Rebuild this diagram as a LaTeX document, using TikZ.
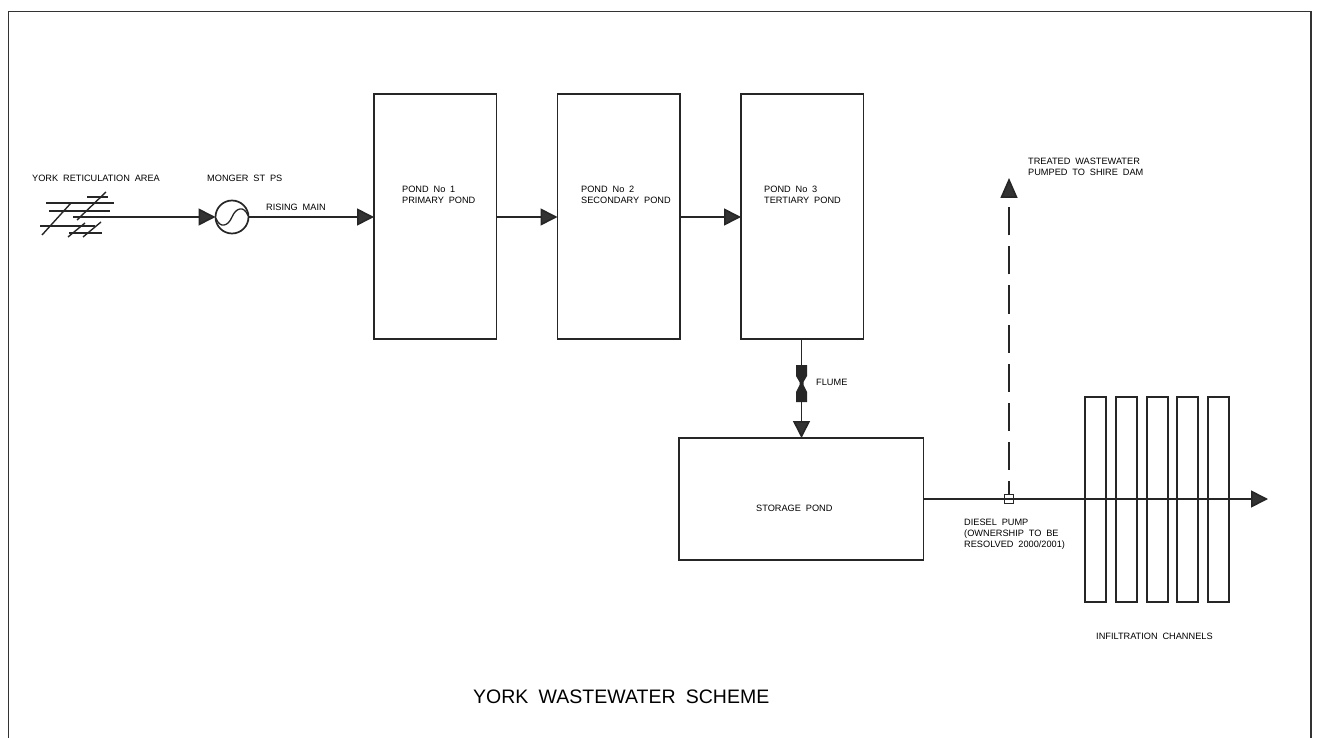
\documentclass[tikz,border=0pt]{standalone}
\usepackage{fontspec}
\setmainfont[WordSpace=1.9]{Liberation Sans}
\usetikzlibrary{arrows.meta}
\tikzset{
  x=1pt,y=-1pt,
  bx/.style={draw=black!85,line width=1.8pt,inner sep=0pt,outer sep=0pt,anchor=north west},
  ln/.style={draw=black!85,line width=1.6pt},
  fl/.style={ln,-{Triangle[length=17pt,width=17pt,fill=black!80]}},
  lb/.style={font=\fontsize{9.2}{11.2}\selectfont,text=black,align=left,anchor=west,inner sep=0pt},
  gridline/.style={draw=black!85,line width=1.4pt}
}
\begin{document}
\begin{tikzpicture}
\useasboundingbox (0,0) rectangle (1318,738);
\fill[white] (0,0) rectangle (1318,738);
\draw[draw=black!80,line width=1.7pt] (8.5,738) -- (8.5,11.5) -- (1311,11.5) -- (1311,738);
% ponds
\node[bx,minimum width=122.5pt,minimum height=245pt] (p1) at (374,94) {};
\node[bx,minimum width=122.5pt,minimum height=245pt] (p2) at (557.5,94) {};
\node[bx,minimum width=122.5pt,minimum height=245pt] (p3) at (741,94) {};
\node[bx,minimum width=244.5pt,minimum height=122pt] (st) at (679,438) {};
\node[lb] (t1) at (402,194.5) {POND No 1\\PRIMARY POND};
\node[lb] (t2) at (581,194.5) {POND No 2\\SECONDARY POND};
\node[lb] (t3) at (764,194.5) {POND No 3\\TERTIARY POND};
\node[lb] (ts) at (756,508) {STORAGE POND};
% channels
\foreach \n/\x in {1/1085,2/1116,3/1147,4/1177,5/1208}{
  \node[bx,minimum width=21pt,minimum height=205pt] (c\n) at (\x,397) {};
}
% reticulation
\coordinate (ret) at (73,217);
\draw[gridline] (46,203) -- (114,203);
\draw[gridline] (49,211) -- (110,211);
\draw[gridline] (40,226) -- (95,226);
\draw[gridline] (87,197) -- (108,197);
\draw[gridline] (69,233) -- (102,233);
\draw[gridline] (42,235) -- (71,203);
\draw[gridline] (77,220) -- (106,192);
\draw[gridline] (68,237) -- (85,223);
\draw[gridline] (83,237) -- (101,222);
% pump
\node[draw=black!85,line width=1.7pt,circle,minimum size=33pt,inner sep=0pt,outer sep=0pt] (mp) at (232,217) {};
\draw[black!85,line width=1.3pt] (216,218.5) .. controls (220,228.5) and (228,226.5) .. (232,217) .. controls (236,207.5) and (244,205.5) .. (248,215.5);
% connectors
\draw[fl] (ret) -- (mp.west);
\draw[fl] (mp.east) -- (p1.west |- mp.east);
\draw[fl] (p1.east |- 0,217) -- (p2.west |- 0,217);
\draw[fl] (p2.east |- 0,217) -- (p3.west |- 0,217);
% flume
\coordinate (fl1) at (801.5,366);
\fill[black!85] (796,365) -- (807,365) -- (807,376) -- (803.5,382) -- (803.5,385) -- (807,392) -- (807,402) -- (796,402) -- (796,392) -- (799.5,385) -- (799.5,382) -- (796,376) -- cycle;
\draw[fl] (p3.south -| fl1) -- (st.north -| fl1);
\node[lb] (tf) at (816,382) {FLUME};
% outflow
\node[draw=black!85,line width=1.5pt,minimum size=9pt,inner sep=0pt,outer sep=0pt] (pu) at (1009,499) {};
\coordinate (end) at (1268,499);
\coordinate (up) at (1009,178);
\draw[fl] (st.east |- pu) -- (end);
\draw[ln,dash pattern=on 28pt off 11pt,dash phase=14pt,-{Triangle[length=20pt,width=17pt,fill=black!80]}] (pu.north) -- (up);
\node[lb] (tw) at (1028,167) {TREATED WASTEWATER\\PUMPED TO SHIRE DAM};
\node[lb] (td) at (964,534.5) {DIESEL PUMP\\(OWNERSHIP TO BE\\RESOLVED 2000/2001)};
\node[lb] (ti) at (1096,636) {INFILTRATION CHANNELS};
\node[lb] (ty) at (32,178) {YORK RETICULATION AREA};
\node[lb] (tm) at (207,178) {MONGER ST PS};
\node[lb] (tr) at (266,207) {RISING MAIN};
\node[lb,font=\fontsize{19.5}{22}\selectfont] (tt) at (473,697) {YORK\ WASTEWATER\ SCHEME};
\end{tikzpicture}
\end{document}
